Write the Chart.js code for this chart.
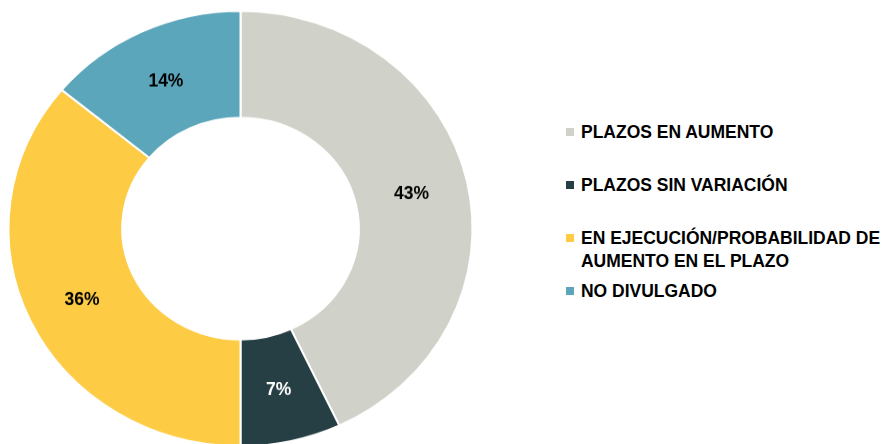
<!DOCTYPE html>
<html>
<head>
<meta charset="utf-8">
<script src="https://cdn.jsdelivr.net/npm/chart.js@4.4.1/dist/chart.umd.min.js"></script>
<style>
    html, body { margin: 0; padding: 0; background: #fff; overflow: hidden; }
    body { width: 882px; height: 444px; position: relative; font-family: "Liberation Sans", Arial, sans-serif; }
    #chartBox { position: absolute; left: 0; top: 3px; width: 481px; height: 481px; transform: scaleY(0.938); transform-origin: top left; }
    #legend { position: absolute; left: 0; top: 0; }
    .item { position: absolute; left: 566px; white-space: nowrap; }
    .box { position: absolute; left: 0; width: 8px; height: 8px; }
    .txt { position: absolute; left: 14.5px; font-weight: bold; font-size: 18.6px; line-height: 22.4px; color: #000; transform: scaleX(0.94); transform-origin: top left; }
</style>
</head>
<body>
<div id="chartBox"><canvas id="donut" width="481" height="481"></canvas></div>
<div id="legend"></div>
<script>
// chart data
const categories = ['PLAZOS EN AUMENTO', 'PLAZOS SIN VARIACIÓN', 'EN EJECUCIÓN/PROBABILIDAD DE|AUMENTO EN EL PLAZO', 'NO DIVULGADO'];
const shares = [43, 7, 36, 14];
const sliceColors = ['#D0D1C8', '#263F44', '#FDCB44', '#5BA6BA'];
const labelColors = ['#000000', '#FFFFFF', '#000000', '#000000'];
const legendRows = [131.7, 185, 238.3, 291];

const squashY = 0.938;

// percent labels in the middle of each slice
const sliceLabels = {
    id: 'sliceLabels',
    afterDatasetsDraw(chart) {
        const ctx = chart.ctx;
        const meta = chart.getDatasetMeta(0);
        meta.data.forEach((arc, i) => {
            const pos = arc.tooltipPosition();
            ctx.save();
            ctx.translate(pos.x, pos.y);
            ctx.scale(0.94, 1 / squashY);
            ctx.font = 'bold 18.6px "Liberation Sans", Arial, sans-serif';
            ctx.fillStyle = labelColors[i];
            ctx.textAlign = 'center';
            ctx.textBaseline = 'middle';
            ctx.fillText(shares[i] + '%', 0, 1);
            ctx.restore();
        });
    }
};

new Chart(document.getElementById('donut'), {
    type: 'doughnut',
    data: {
        labels: categories.map(c => c.replace('|', ' ')),
        datasets: [{
            data: shares,
            backgroundColor: sliceColors,
            borderColor: '#FFFFFF',
            borderWidth: 2
        }]
    },
    options: {
        responsive: false,
        animation: false,
        cutout: '51%',
        layout: { padding: 7.5 },
        plugins: {
            legend: { display: false },
            tooltip: { enabled: false }
        }
    },
    plugins: [sliceLabels]
});

// legend on the right
const legend = document.getElementById('legend');
categories.forEach((cat, i) => {
    const item = document.createElement('div');
    item.className = 'item';
    item.style.top = (legendRows[i] - 11.2) + 'px';
    item.innerHTML = `
        <div class="box" style="background:${sliceColors[i]}; top:7.3px"></div>
        <div class="txt">${cat.split('|').join('<br>')}</div>
    `;
    legend.appendChild(item);
});
</script>
</body>
</html>
